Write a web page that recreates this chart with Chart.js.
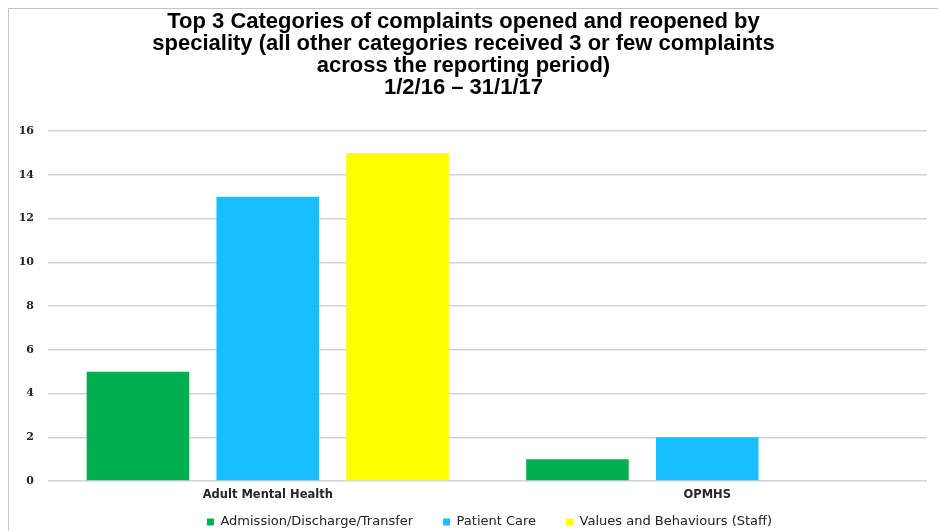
<!DOCTYPE html>
<html>
<head>
<meta charset="utf-8">
<script src="https://cdn.jsdelivr.net/npm/chart.js@4.4.1/dist/chart.umd.min.js"></script>
<style>
    html, body { margin: 0; padding: 0; background: #ffffff; }
    #caixa { width: 938px; height: 531px; position: relative; }
</style>
</head>
<body>
<div id="caixa"><canvas id="graficoQueixas"></canvas></div>
<script>
const especialidades = ['Adult Mental Health', 'OPMHS'];

const admissaoAlta = [5, 1];
const cuidadoPaciente = [13, 2];
const valoresComportamento = [15, 0];

const ticksY = [0, 2, 4, 6, 8, 10, 12, 14, 16];

const titulo = [
    'Top 3 Categories of complaints opened and reopened by',
    'speciality (all other categories received 3 or few complaints',
    'across the reporting period)',
    '1/2/16 \u2013 31/1/17'
];

// moldura cinza no topo e na esquerda, como no original
const moldura = {
    id: 'moldura',
    beforeDraw(chart) {
        const ctx = chart.ctx;
        ctx.save();
        ctx.fillStyle = '#ffffff';
        ctx.fillRect(0, 0, chart.width, chart.height);
        ctx.strokeStyle = '#c4c4c4';
        ctx.lineWidth = 1;
        ctx.beginPath();
        ctx.moveTo(8.5, chart.height);
        ctx.lineTo(8.5, 8.5);
        ctx.lineTo(chart.width, 8.5);
        ctx.stroke();
        ctx.restore();
    }
};

// sobe a legenda para perto dos rótulos do eixo x (e puxa um pouco à direita)
const ajustarLegenda = {
    id: 'ajustarLegenda',
    afterLayout(chart) {
        if (chart.legend) {
            chart.legend.top -= 17.5;
            chart.legend.bottom -= 17.5;
            chart.legend.left += 26;
            chart.legend.right += 26;
        }
    }
};

const contexto = document.getElementById('graficoQueixas').getContext('2d');

new Chart(contexto, {
    type: 'bar',
    data: {
        labels: especialidades,
        datasets: [
            { label: 'Admission/Discharge/Transfer', data: admissaoAlta, backgroundColor: '#00b050' },
            { label: 'Patient Care', data: cuidadoPaciente, backgroundColor: '#17bfff' },
            { label: 'Values and Behaviours (Staff)', data: valoresComportamento, backgroundColor: '#ffff00' }
        ]
    },
    options: {
        responsive: true,
        maintainAspectRatio: false,
        animation: false,
        layout: { padding: { left: 0, right: 11, top: 0, bottom: -25 } },
        datasets: {
            bar: { categoryPercentage: 0.886, barPercentage: 0.79 }
        },
        scales: {
            x: {
                afterFit: function (escala) { escala.height = 22; },
                grid: { display: false, drawTicks: false },
                border: { display: false },
                ticks: {
                    padding: 7,
                    color: '#262626',
                    font: { family: 'DejaVu Sans', size: 11.5, weight: 'bold' }
                }
            },
            y: {
                min: 0,
                max: 16,
                afterFit: function (escala) { escala.width = 48; },
                afterBuildTicks: function (escala) {
                    escala.ticks = ticksY.map(v => ({ value: v }));
                },
                grid: { color: '#d4d4d4', lineWidth: 1.5, drawTicks: false },
                border: { display: false },
                ticks: {
                    padding: 14,
                    color: '#262626',
                    font: { family: 'DejaVu Serif', size: 11, weight: 'bold' }
                }
            }
        },
        plugins: {
            title: {
                display: true,
                text: titulo,
                color: '#000000',
                font: { family: 'Liberation Sans', size: 22, weight: 'bold', lineHeight: 1.0 },
                padding: { top: 11, bottom: 32 }
            },
            legend: {
                position: 'bottom',
                labels: {
                    boxWidth: 7,
                    boxHeight: 7,
                    padding: 30,
                    color: '#222222',
                    font: { family: 'DejaVu Sans', size: 13 }
                }
            },
            tooltip: { enabled: false }
        }
    },
    plugins: [moldura, ajustarLegenda]
});
</script>
</body>
</html>
